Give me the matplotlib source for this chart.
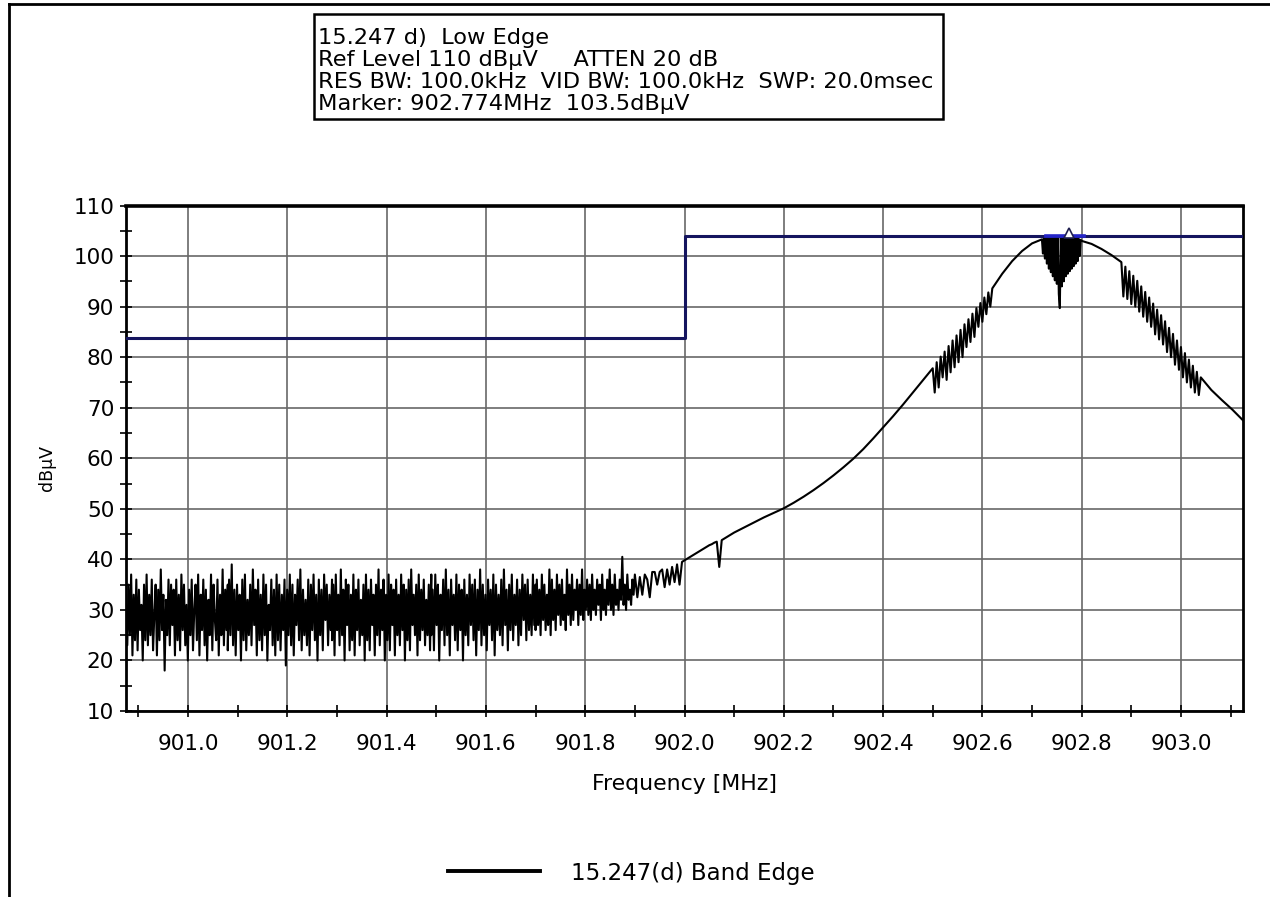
import numpy as np
import matplotlib.pyplot as plt
from matplotlib.lines import Line2D
from matplotlib.patches import Rectangle
from matplotlib.ticker import MultipleLocator, FormatStrFormatter
from matplotlib.transforms import ScaledTranslation

# trace levels (dBuV), one list per sweep segment
noise_1 = [31, 23, 35, 25, 37, 21, 33, 24, 36, 22, 34, 26, 31, 20, 35, 24, 37, 23, 33, 25,
           36, 22, 29, 35, 21, 34, 24, 38, 26, 33, 18, 32, 25, 36, 23, 35, 27, 34, 21, 36,
           24, 33, 22, 37, 26, 35, 23, 31, 20, 34, 25, 36, 22, 30, 35, 24, 37, 21, 33, 26,
           36, 23, 34, 20, 32, 25, 37, 22, 35, 28, 24, 36, 21, 33, 25, 38, 23, 34, 26, 35]
noise_2 = [22, 36, 25, 39, 23, 34, 21, 35, 26, 33, 20, 36, 24, 37, 22, 32, 25, 35, 23, 38,
           27, 34, 21, 36, 24, 33, 22, 37, 25, 35, 20, 31, 26, 36, 23, 34, 21, 37, 24, 35,
           22, 33, 26, 36, 19, 34, 25, 37, 23, 35, 21, 33, 27, 36, 24, 38, 22, 34, 25, 32,
           23, 36, 21, 35, 26, 37, 24, 33, 20, 36, 25, 34, 22, 37, 28, 35, 23, 33, 26, 36]
noise_3 = [24, 35, 21, 37, 26, 33, 23, 38, 25, 34, 20, 36, 27, 35, 22, 33, 24, 37, 21, 34,
           26, 36, 23, 32, 25, 35, 20, 37, 24, 34, 22, 36, 27, 33, 21, 35, 25, 38, 23, 34,
           26, 36, 20, 33, 24, 37, 22, 35, 27, 34, 21, 36, 25, 33, 23, 37, 26, 35, 20, 34,
           24, 36, 22, 38, 27, 33, 25, 35, 21, 37, 24, 34, 26, 36, 23, 32, 25, 35, 22, 37]
noise_4 = [25, 34, 22, 37, 27, 35, 20, 33, 26, 36, 23, 38, 25, 34, 21, 36, 27, 33, 24, 37,
           22, 35, 26, 34, 20, 36, 25, 33, 23, 37, 27, 35, 24, 36, 21, 34, 26, 38, 23, 35,
           25, 33, 22, 36, 27, 34, 24, 37, 21, 35, 26, 33, 25, 36, 23, 38, 27, 34, 22, 35,
           26, 37, 24, 33, 27, 36, 23, 34, 25, 37, 28, 35, 24, 36, 26, 33, 25, 37, 27, 35]
noise_5 = [26, 36, 27, 34, 25, 37, 28, 35, 26, 33, 27, 38, 25, 36, 28, 34, 26, 37, 29, 35,
           27, 36, 28, 33, 26, 38, 29, 35, 27, 37, 28, 34, 30, 36, 27, 35, 29, 38, 28, 34,
           30, 36, 29, 35, 28, 37, 30, 34, 29, 36, 31, 35, 28, 37, 30, 34, 29, 36, 31, 38,
           30, 35, 29, 37, 31, 34, 30, 36, 32, 40.5, 31, 35, 30, 37, 32, 34, 31, 36, 33, 37]
edge_rise = [37, 32.5, 36.5, 33, 37, 36, 32.5, 37.5, 37.5, 35, 37.5, 38, 34.5, 38, 35, 38.5, 35.5, 39, 35, 39.5,
             39.8, 40.1, 40.4, 40.7, 41, 41.3, 41.6, 41.9, 42.2, 42.5, 42.8, 43, 43.3, 43.5, 38.5, 43.8,
             44.1, 44.4, 44.7, 45, 45.3]
skirt_lo = [45.3, 46.3, 47.3, 48.3, 49.2, 50.1, 51.2, 52.4, 53.7, 55.1, 56.6, 58.2, 59.9, 61.8,
            63.9, 66.1, 68.3, 70.6, 73, 75.4, 77.8]
skirt_lo_ripple = [77.8, 73, 79, 74, 80.1, 76, 81.1, 75.5, 82.2, 77, 83.3, 78, 84.3, 79, 85.4, 80,
                   86.5, 82, 87.5, 83, 88.6, 84, 89.7, 86, 90.7, 87, 91.8, 88.5, 92.8, 90, 93.6]
shoulder_lo = [93.6, 96.5, 99, 101, 102.5, 103.3]
peak_top = [103.3, 100.5, 103.5, 99.5, 103.6, 98.5, 103.7, 97.5, 103.7, 96.8, 103.7, 96, 103.7, 95.2,
            103.7, 94.5, 103.7, 92.5, 89.7, 103.7, 94, 103.7, 95, 103.7, 96, 103.7, 96.5, 103.7, 97,
            103.7, 97.5, 103.6, 98, 103.6, 98.5, 103.5, 99, 103.4, 100, 103.2, 103]
shoulder_hi = [103, 102.4, 101.4, 100.2, 98.8]
skirt_hi_ripple = [98.8, 92, 97.9, 91.5, 97, 90.5, 96.1, 90, 95.1, 89, 94, 88, 92.9, 87, 91.8, 86,
                   90.6, 84.5, 89.4, 83.5, 88.3, 82.5, 87.1, 81, 85.8, 80, 84.6, 78.5, 83.3, 77.5,
                   82, 76, 80.8, 75, 79.5, 74, 78.3, 73, 77.1, 72.5, 76]
tail_hi = [76, 73.5, 71.5, 69.6, 67.5]

# start/stop frequency (MHz) of each segment above
seg_levels = [noise_1, noise_2, noise_3, noise_4, noise_5, edge_rise, skirt_lo, skirt_lo_ripple,
              shoulder_lo, peak_top, shoulder_hi, skirt_hi_ripple, tail_hi]
seg_spans = [(900.875, 901.08), (901.08, 901.29), (901.29, 901.49), (901.49, 901.70),
             (901.70, 901.90), (901.90, 902.10), (902.10, 902.50), (902.50, 902.62),
             (902.62, 902.72), (902.72, 902.80), (902.80, 902.88), (902.88, 903.04),
             (903.04, 903.125)]

# 15.247(d) limit line
limit_freq = [900.875, 902.0, 902.0, 903.125]
limit_level = [83.8, 83.8, 104.0, 104.0]

marker_freq = 902.774
marker_level = 103.5
peak_band = [902.728, 902.805]

header = ["15.247 d)  Low Edge",
          "Ref Level 110 dB\u00b5V     ATTEN 20 dB",
          "RES BW: 100.0kHz  VID BW: 100.0kHz  SWP: 20.0msec",
          "Marker: 902.774MHz  103.5dB\u00b5V"]
legend_label = "15.247(d) Band Edge"

freq = np.concatenate([np.linspace(a, b, len(v)) for (a, b), v in zip(seg_spans, seg_levels)])
level = np.concatenate([np.array(v, float) for v in seg_levels])

W, H = 1270, 897
fig = plt.figure(figsize=(W / 100, H / 100), dpi=100)
ax = fig.add_axes([126 / W, 1 - 711 / H, (1243 - 126) / W, (711 - 205.5) / H])

ax.plot(freq, level, color='black', lw=1.5, zorder=2)
ax.plot(limit_freq, limit_level, color='#15155f', lw=2.2, zorder=3)
ax.plot(peak_band, [limit_level[-1]] * 2, color='#2424c8', lw=2.6, zorder=4)
off = ax.transData + ScaledTranslation(0, 4 / 72, fig.dpi_scale_trans)
ax.plot([marker_freq], [marker_level], marker='^', ms=6.5, mfc='white', mec='#202050',
        mew=1.2, transform=off, zorder=5, clip_on=False)

ax.set_xlim(900.875, 903.125)
ax.set_ylim(10, 110)
ax.xaxis.set_major_locator(MultipleLocator(0.2))
ax.xaxis.set_minor_locator(MultipleLocator(0.1))
ax.xaxis.set_major_formatter(FormatStrFormatter('%.1f'))
ax.yaxis.set_major_locator(MultipleLocator(10))
ax.yaxis.set_minor_locator(MultipleLocator(5))
ax.grid(which='major', color='#686868', lw=1.2)
ax.set_axisbelow(True)
ax.tick_params(which='both', direction='inout', length=9, width=1.2, color='black')
ax.tick_params(axis='x', labelsize=15.5, pad=12)
ax.tick_params(axis='y', labelsize=15.5, pad=4)
for s in ax.spines.values():
    s.set_linewidth(2.0)
ax.spines['top'].set_linewidth(2.6)

ax.set_xlabel("Frequency [MHz]", fontsize=15.8)
ax.xaxis.set_label_coords(0.5, -0.124)
ax.set_ylabel("dB\u00b5V", fontsize=12.5)
ax.yaxis.set_label_coords(-0.063, 0.48)

# settings box
fig.add_artist(Rectangle((314 / W, 1 - 119 / H), (943 - 314) / W, (119 - 14) / H,
                         transform=fig.transFigure, fill=False, ec='black', lw=1.8))
for i, line in enumerate(header):
    fig.text(318 / W, 1 - (43.5 + 22 * i) / H, line, fontsize=16.2, va='baseline', ha='left')

fig.legend(handles=[Line2D([], [], color='black', lw=2.8)], labels=[legend_label],
           loc='center left', bbox_to_anchor=(448 / W, 1 - 873 / H), frameon=False,
           fontsize=16.5, handlelength=4.0, handletextpad=1.35, borderpad=0, borderaxespad=0)

# page frame
fig.add_artist(Line2D([9 / W, 1], [1 - 4 / H] * 2, transform=fig.transFigure, color='black', lw=2))
fig.add_artist(Line2D([9 / W] * 2, [0, 1 - 4 / H], transform=fig.transFigure, color='black', lw=2))

fig.savefig('out.png', dpi=100)
